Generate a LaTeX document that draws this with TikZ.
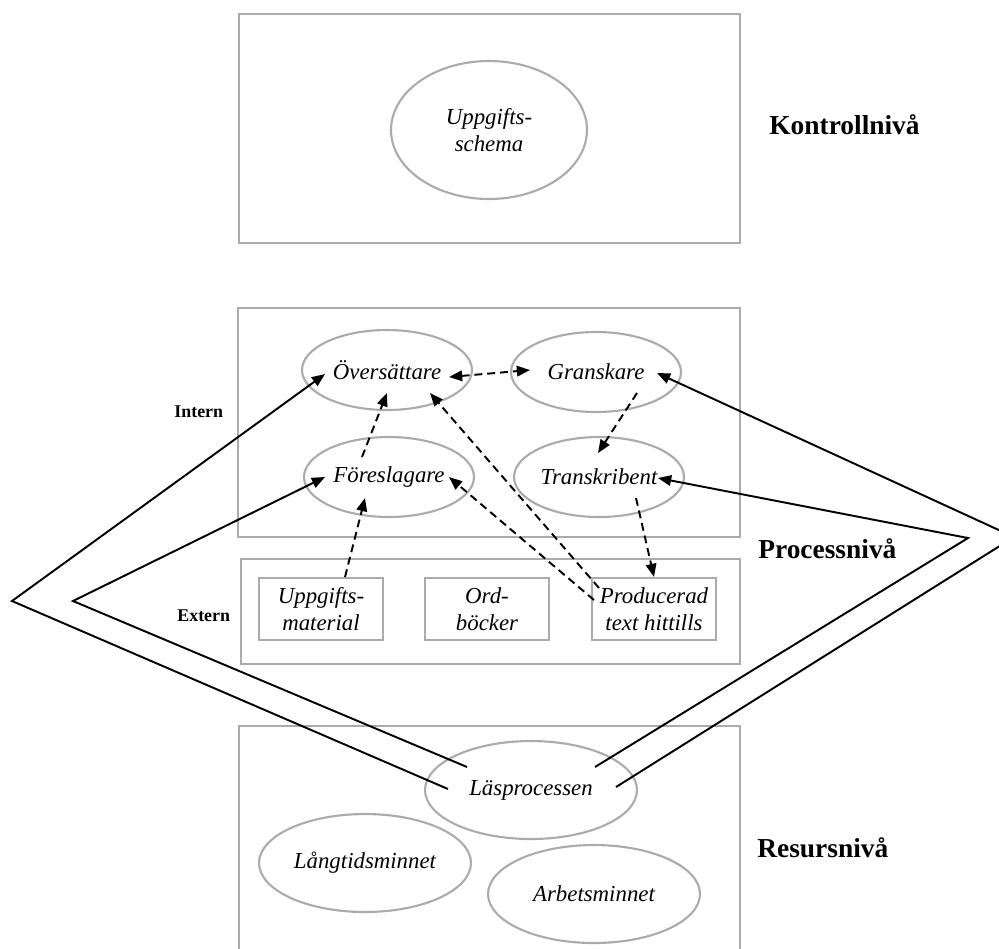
\documentclass[tikz,border=0pt]{standalone}
\usepackage{fontspec}
\setmainfont{Liberation Serif}
\usetikzlibrary{arrows.meta,positioning,calc,shapes.geometric}

\begin{document}
\begin{tikzpicture}[
    x=0.02cm, y=-0.02cm,
    >={Triangle[length=7.5pt,width=6pt]},
    frame/.style={draw=black!33, line width=1.2pt},
    ell/.style={ellipse, draw=black!33, line width=1.2pt, inner sep=0pt,
                minimum width=3.4cm, minimum height=1.6cm, align=center,
                font=\fontsize{13}{15.5}\selectfont\itshape},
    big/.style={ell, minimum width=4.24cm, minimum height=1.96cm},
    ext/.style={rectangle, draw=black!33, line width=1.2pt, inner sep=0pt,
                minimum width=2.48cm, minimum height=1.24cm, align=center,
                font=\fontsize{13}{15.5}\selectfont\itshape},
    arr/.style={->, line width=1.1pt},
    darr/.style={arr, dash pattern=on 4.5pt off 2.8pt},
    lvl/.style={anchor=base west, inner sep=0pt,
                font=\fontsize{15.6}{18}\selectfont\bfseries},
    lbl/.style={anchor=base west, inner sep=0pt,
                font=\fontsize{10.2}{12}\selectfont\bfseries}
]
    \useasboundingbox (0,0) rectangle (999,948);

    % Kontrollniva
    \draw[frame] (239,14) rectangle (740,243);
    \node[ell, minimum width=3.92cm, minimum height=2.76cm] (schema) at (489,130) {Uppgifts-\\schema};
    \node[lvl] (kontroll) at (769,134) {Kontrollnivå};

    % Processniva, intern
    \draw[frame] (238,308) rectangle (740,537);
    \node[ell] (ovs) at (387,370) {Översättare};
    \node[ell] (gra) at (596,372) {Granskare};
    \node[ell] (for) at (389,477) {Föreslagare};
    \node[ell] (tra) at (599,477) {Transkribent};
    \node[lbl] (intern) at (174,417) {Intern};

    % Processniva, extern
    \draw[frame] (241,559) rectangle (740,664);
    \node[ext] (upp)  at (321,609) {Uppgifts-\\material};
    \node[ext] (ord)  at (487,609) {Ord-\\böcker};
    \node[ext] (prod) at (654,609) {Producerad\\text hittills};
    \node[lbl] (extern) at (177,621) {Extern};
    \node[lvl] (process) at (758,558) {Processnivå};

    % Resursniva
    \draw[frame] (239,960) |- (740,726) -- (740,960);
    \node[big] (las) at (531,790) {Läsprocessen};
    \node[big] (lang) at (365,863) {Långtidsminnet};
    \node[big] (arb) at (594,894) {Arbetsminnet};
    \node[lvl] (resurs) at (757,857) {Resursnivå};

    % Dashed arrows
    \draw[darr, <->] ($(ovs)+(62,7)$) -- ($(gra)+(-66,-2)$);
    \draw[darr] ($(gra)+(41,21)$) -- ($(tra)+(-1,-24)$);
    \draw[darr] ($(tra)+(37,21)$) -- (prod.north);
    \draw[darr] ($(prod)+(-55,-21)$) -- ($(ovs)+(43,23)$);
    \draw[darr] ($(prod)+(-60,-9)$) -- ($(for)+(60,0)$);
    \draw[darr] ($(upp.north)+(24,0)$) -- ($(for)+(-24,21)$);
    \draw[darr] ($(for)+(-27,-20)$) -- ($(ovs)+(0,23)$);

    % Lines from Lasprocessen
    \coordinate (lv1) at (12,601);
    \coordinate (lv2) at (73,601);
    \coordinate (rv1) at (968,538);
    \coordinate (rv2) at (1014,537);
    \draw[arr] ($(las)+(-83,-1)$) -- (lv1) -- ($(ovs)+(-62,4)$);
    \draw[arr] ($(las)+(-64,-23)$) -- (lv2) -- ($(for)+(-64,0)$);
    \draw[arr] ($(las)+(64,-23)$) -- (rv1) -- ($(tra)+(59,1)$);
    \draw[arr] ($(las)+(85,-3)$) -- (rv2) -- ($(gra)+(61,1)$);
\end{tikzpicture}
\end{document}
